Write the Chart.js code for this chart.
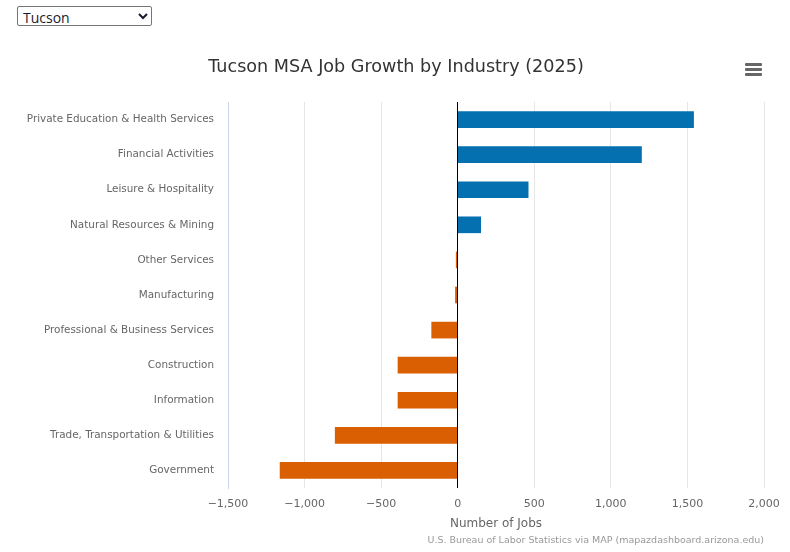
<!DOCTYPE html>
<html>
<head>
<meta charset="utf-8">
<script src="https://cdn.jsdelivr.net/npm/chart.js@4"></script>
<style>
  html, body { margin: 0; padding: 0; background: #fff; }
  #wrap { position: relative; width: 790px; height: 552px; }
  #msa { position: absolute; left: 17px; top: 6px; width: 135px; height: 20px; box-sizing: border-box;
         font: 14px "Open Sans", sans-serif; line-height: 16px; color: #1a1a2e; border: 1px solid #767676; border-radius: 2px; background: #fff; padding: 0 1px; }
  #menu { position: absolute; left: 745px; top: 63px; width: 17px; }
  #menu div { height: 3px; background: #666; margin-bottom: 2px; border-radius: 1px; }
</style>
</head>
<body>
<div id="wrap">
  <canvas id="jobsChart" width="790" height="552"></canvas>
  <select id="msa"><option>Tucson</option></select>
  <div id="menu"><div></div><div></div><div></div></div>
</div>
<script>
const industries = [
  'Private Education & Health Services', 'Financial Activities', 'Leisure & Hospitality',
  'Natural Resources & Mining', 'Other Services', 'Manufacturing',
  'Professional & Business Services', 'Construction', 'Information',
  'Trade, Transportation & Utilities', 'Government'
];
const jobChange = [1540, 1200, 460, 150, -10, -15, -170, -390, -390, -800, -1160];
const xMin = -1500;
const xMax = 2000;
const xStep = 500;

const FONT = '"DejaVu Sans", sans-serif';

// Titre, crédits et ligne du zéro
const extras = {
    id: 'extras',
    afterDatasetsDraw(chart) {
        const c = chart.ctx;
        const x = chart.scales.x;
        const area = chart.chartArea;
        const zx = Math.round(x.getPixelForValue(0)) - 0.5;
        c.save();
        c.strokeStyle = '#000';
        c.lineWidth = 1;
        c.beginPath();
        c.moveTo(zx, area.top);
        c.lineTo(zx, area.bottom);
        c.stroke();

        c.fillStyle = '#333';
        c.font = '17.6px ' + FONT;
        c.textAlign = 'center';
        c.textBaseline = 'middle';
        c.fillText('Tucson MSA Job Growth by Industry (2025)', 396, 67);

        c.fillStyle = '#999';
        c.font = '9.5px ' + FONT;
        c.textAlign = 'right';
        c.fillText('U.S. Bureau of Labor Statistics via MAP (mapazdashboard.arizona.edu)', 764, 541);
        c.restore();
    }
};

const ctx = document.getElementById('jobsChart').getContext('2d');
new Chart(ctx, {
    type: 'bar',
    data: {
        labels: industries,
        datasets: [{
            label: 'Jobs',
            data: jobChange,
            backgroundColor: jobChange.map(v => v >= 0 ? '#0570b0' : '#d95f02'),
            barThickness: 16
        }]
    },
    options: {
        indexAxis: 'y',
        responsive: false,
        animation: false,
        layout: { padding: { left: 0, right: 26, top: 102, bottom: 0 } },
        plugins: {
            legend: { display: false },
            tooltip: { enabled: false }
        },
        scales: {
            x: {
                min: xMin,
                max: xMax,
                ticks: {
                    stepSize: xStep,
                    padding: 10,
                    color: '#666',
                    font: { family: FONT, size: 11 },
                    callback: v => v < 0 ? '\u2212' + Math.abs(v).toLocaleString('en-US') : v.toLocaleString('en-US')
                },
                grid: { color: '#e6e6e6', drawTicks: false },
                border: { display: false },
                title: {
                    display: true,
                    text: 'Number of Jobs',
                    color: '#666',
                    font: { family: FONT, size: 12 },
                    padding: { top: 4, bottom: 21 }
                },
                afterFit: s => { s.height = 64; }
            },
            y: {
                ticks: {
                    padding: 14,
                    color: '#666',
                    font: { family: FONT, size: 10.4 }
                },
                grid: { display: false, drawTicks: false },
                border: { display: true, color: '#ccd6eb' },
                afterFit: s => { s.width = 228; }
            }
        }
    },
    plugins: [extras]
});
</script>
</body>
</html>
